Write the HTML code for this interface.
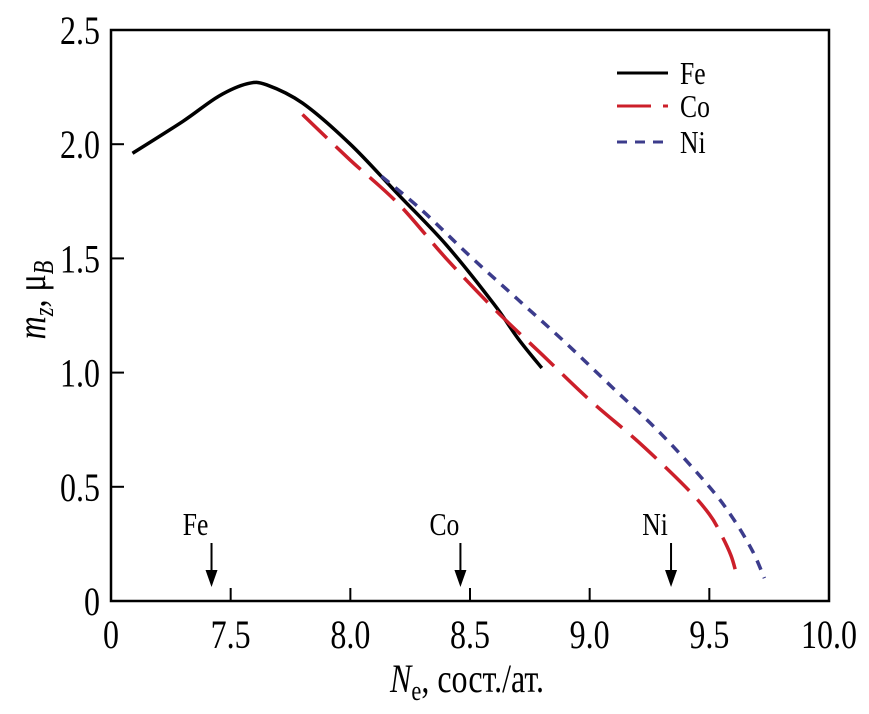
<!DOCTYPE html>
<html><head><meta charset="utf-8"><style>
body{margin:0;background:#fff}
svg text{font-family:"Liberation Serif",serif;fill:#000}
</style></head><body>
<svg width="869" height="709" viewBox="0 0 869 709">
<g id="plot"></g>
</svg>
<script>
const xTicks=[7.5,8.0,8.5,9.0,9.5];
const xTickLabels=["7.5","8.0","8.5","9.0","9.5","10.0"];
const yTicks=[0.5,1.0,1.5,2.0];
const yTickLabels=["0.5","1.0","1.5","2.0","2.5"];
const feX=[7.09,7.3,7.45,7.57,7.65,7.8,8.0,8.2,8.4,8.6,8.7,8.8];
const feY=[1.96,2.1,2.21,2.265,2.26,2.18,2.0,1.78,1.56,1.3,1.15,1.02];
const coX=[7.8,8.0,8.2,8.4,8.6,8.8,9.0,9.2,9.4,9.5,9.55,9.59,9.61];
const coY=[2.13,1.93,1.74,1.5,1.28,1.08,0.88,0.7,0.5,0.38,0.29,0.2,0.13];
const niX=[8.13,8.3,8.5,8.7,8.9,9.1,9.3,9.5,9.6,9.68,9.73];
const niY=[1.86,1.71,1.51,1.32,1.13,0.93,0.73,0.5,0.36,0.22,0.1];
const markerNames=["Fe","Co","Ni"];
const markerX=[7.42,8.46,9.34];

const X0=111,X1=829,Y0=601,Y1=30;
const sx=v=>X0+(v-7)/3*(X1-X0);
const sy=v=>Y0-v/2.5*(Y0-Y1);
const NS="http://www.w3.org/2000/svg";
const g=document.getElementById('plot');
function mk(t,a,txt){const e=document.createElementNS(NS,t);for(const k in a)e.setAttribute(k,a[k]);if(txt!==undefined)e.textContent=txt;g.appendChild(e);return e;}
function txt(x,y,size,anchor,s){return mk('text',{x:0,y:0,'font-size':size,'text-anchor':anchor,transform:`translate(${x},${y}) scale(0.8,1)`},s);}

const frame=mk('rect',{x:X0,y:Y1,width:X1-X0,height:Y0-Y1,fill:'none',stroke:'#000','stroke-width':2.5});



xTicks.forEach(v=>{const t=mk('line',{x1:sx(v),x2:sx(v),y1:Y0,y2:Y0-13,stroke:'#000','stroke-width':2});

});
yTicks.forEach(v=>{const t=mk('line',{x1:X0,x2:X0+13,y1:sy(v),y2:sy(v),stroke:'#000','stroke-width':2});

});

const xl=txt(X0,648,40,'middle','0');


xTickLabels.forEach((s,i)=>{const v=7.5+0.5*i;const t=txt(sx(v),648,40,'middle',s);

});
const yl0=txt(100,Y0+14,40,'end','0');


yTickLabels.forEach((s,i)=>{const v=0.5+0.5*i;const t=txt(100,sy(v)+14,40,'end',s);

});

const xt=mk('text',{x:0,y:0,'font-size':40,'text-anchor':'middle',transform:'translate(467,692) scale(0.8,1)'});
xt.innerHTML='<tspan font-style="italic">N</tspan><tspan font-size="28" dy="8">e</tspan><tspan dy="-8">, сост./ат.</tspan>';


const yt=mk('text',{x:0,y:0,'font-size':40,'text-anchor':'middle',transform:'translate(45,300) rotate(-90) scale(0.8,1)'});
yt.innerHTML='<tspan font-style="italic">m</tspan><tspan font-style="italic" font-size="28" dy="8">z</tspan><tspan dy="-8">, μ</tspan><tspan font-style="italic" font-size="28" dy="8">B</tspan>';



function line(xs,ys,color,dash,w,name){
  const P=xs.map((x,i)=>[sx(x),sy(ys[i])]);
  let d='M'+P[0][0].toFixed(1)+','+P[0][1].toFixed(1);
  for(let i=0;i<P.length-1;i++){
    const p0=P[i-1]||P[i],p1=P[i],p2=P[i+1],p3=P[i+2]||P[i+1];
    const c1=[p1[0]+(p2[0]-p0[0])/6,p1[1]+(p2[1]-p0[1])/6];
    const c2=[p2[0]-(p3[0]-p1[0])/6,p2[1]-(p3[1]-p1[1])/6];
    d+=` C${c1[0].toFixed(1)},${c1[1].toFixed(1)} ${c2[0].toFixed(1)},${c2[1].toFixed(1)} ${p2[0].toFixed(1)},${p2[1].toFixed(1)}`;
  }
  const p=mk('path',{d:d,fill:'none',stroke:color,'stroke-width':w,'stroke-dasharray':dash,'stroke-linejoin':'round'});
  
  
}
line(feX,feY,'#000','none',3.5,'fe-line');
line(coX,coY,'#cc1f2a','34,12',3.5,'co-line');
line(niX,niY,'#3c3c8c','10,8',3.5,'ni-line');

markerNames.forEach((n,i)=>{
  const x=sx(markerX[i]);
  const t=txt(x-16,535,32,'middle',n);
  
  
  const a=mk('line',{x1:x,x2:x,y1:543,y2:575,stroke:'#000','stroke-width':2});
  
  
  const h=mk('path',{d:`M${x-6},570 L${x+6},570 L${x},587 Z`,fill:'#000'});
  
  
});

const leg=[['Fe','#000','none',73],['Co','#cc1f2a','34,12',106],['Ni','#3c3c8c','10,8',142]];
leg.forEach(l=>{
  const s=mk('line',{x1:617,x2:668,y1:l[3],y2:l[3],stroke:l[1],'stroke-width':3,'stroke-dasharray':l[2]});
  
  
  const t=txt(680,l[3]+11,32,'start',l[0]);
  
  
});
</script>
</body></html>
